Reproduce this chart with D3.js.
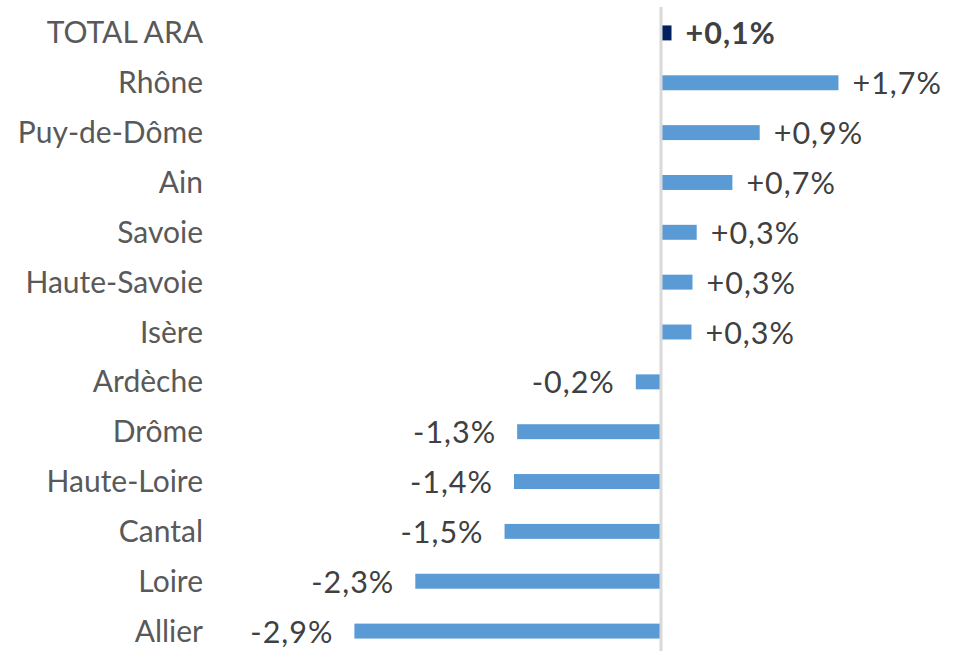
<!DOCTYPE html>
<html><head><meta charset="utf-8">
<script src="https://cdn.jsdelivr.net/npm/d3@7"></script>
<style>body{margin:0;background:#fff}svg{display:block}</style>
</head><body>
<svg id="c" width="958" height="651"></svg>
<script>
const categories = ["TOTAL ARA","Rhône","Puy-de-Dôme","Ain","Savoie","Haute-Savoie","Isère","Ardèche","Drôme","Haute-Loire","Cantal","Loire","Allier"];
const values = [0.1, 1.69, 0.94, 0.68, 0.34, 0.30, 0.29, -0.24, -1.37, -1.40, -1.49, -2.34, -2.92];
const valueLabels = ["+0,1%","+1,7%","+0,9%","+0,7%","+0,3%","+0,3%","+0,3%","-0,2%","-1,3%","-1,4%","-1,5%","-2,3%","-2,9%"];

const svg = d3.select("#c");
const font = "Lato, 'Open Sans', sans-serif";
const x = d3.scaleLinear().domain([-3, 2]).range([661 - 315, 661 + 210]);
const y = d3.scaleBand().domain(categories).range([8, 656]).paddingInner(0.7).paddingOuter(0.35);

const data = categories.map((c, i) => ({c, v: values[i], l: valueLabels[i], i}));

svg.append("g").selectAll("rect").data(data).join("rect")
  .attr("x", d => x(Math.min(0, d.v)))
  .attr("width", d => Math.abs(x(d.v) - x(0)))
  .attr("y", d => y(d.c))
  .attr("height", y.bandwidth())
  .attr("fill", d => d.i === 0 ? "#002060" : "#5B9BD5");

svg.append("line")
  .attr("x1", x(0)).attr("x2", x(0)).attr("y1", 7).attr("y2", 651)
  .attr("stroke", "#d9d9d9").attr("stroke-width", 3);

// category labels
svg.append("g").selectAll("text").data(data).join("text")
  .attr("x", 203)
  .attr("y", d => y(d.c) + y.bandwidth() / 2 + 10.5)
  .attr("text-anchor", "end")
  .attr("font-family", font).attr("font-size", 30)
  .attr("fill", "#595959")
  .text(d => d.c);

// value labels
svg.append("g").selectAll("text").data(data).join("text")
  .attr("x", d => d.v >= 0 ? x(d.v) + 14 : x(d.v) - 21)
  .attr("y", d => y(d.c) + y.bandwidth() / 2 + 11.5)
  .attr("text-anchor", d => d.v >= 0 ? "start" : "end")
  .attr("font-family", font).attr("font-size", 30.5)
  .attr("letter-spacing", 1)
  .attr("font-weight", d => d.i === 0 ? "bold" : "normal")
  .attr("fill", "#404040")
  .text(d => d.l);
</script>
</body></html>
